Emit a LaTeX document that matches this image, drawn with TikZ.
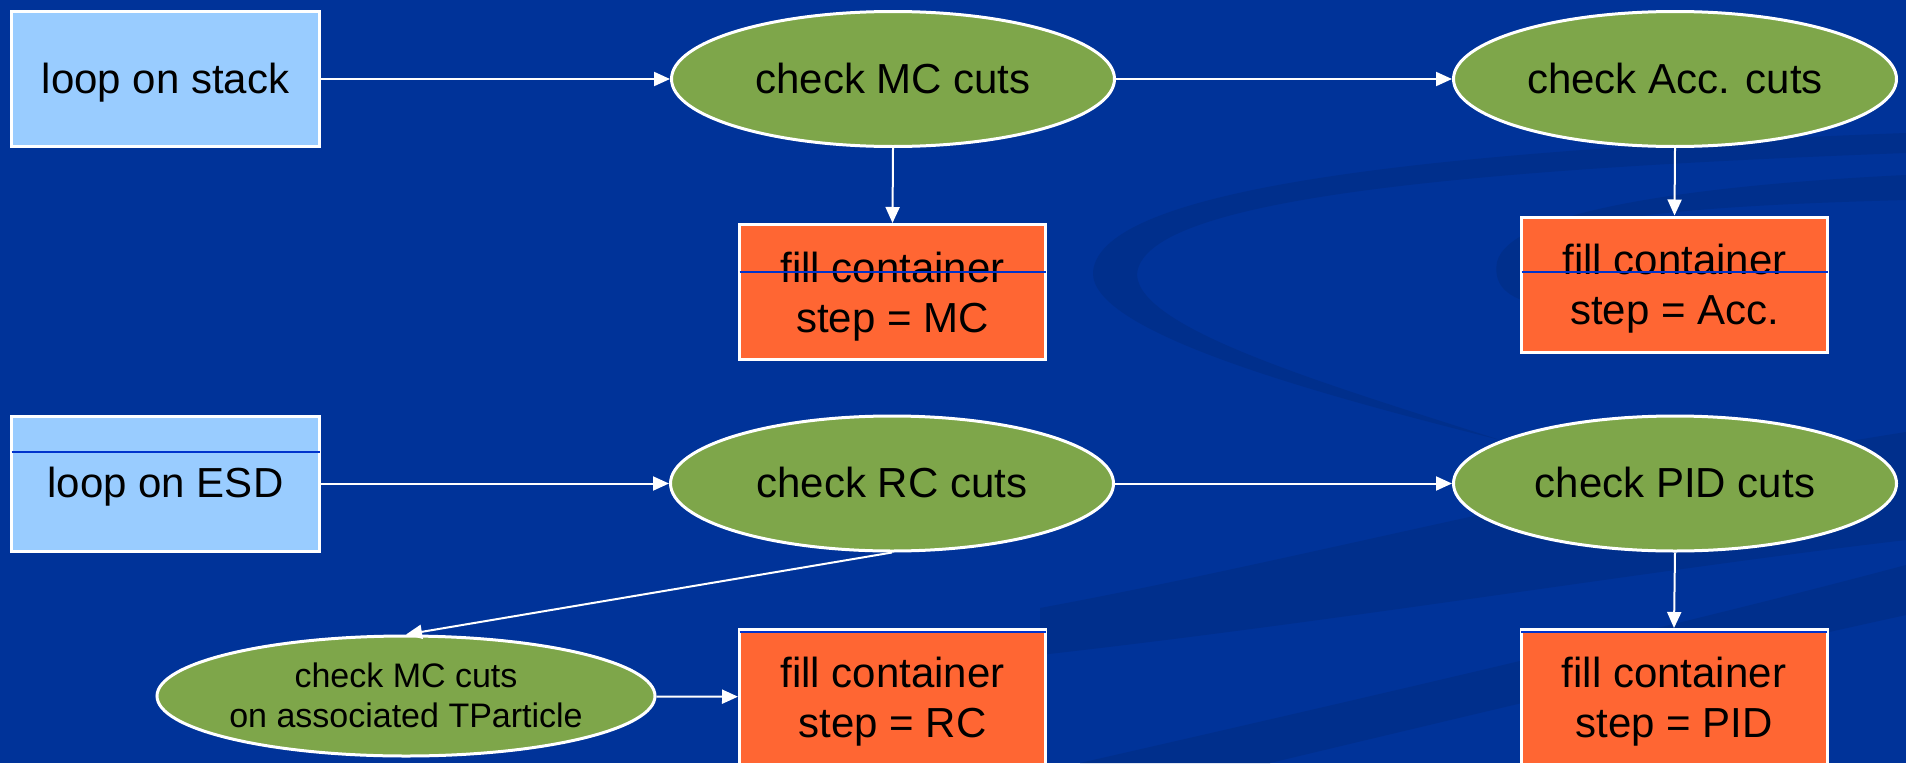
\documentclass[tikz,border=0pt]{standalone}
\usepackage{fontspec}
\setmainfont{Liberation Sans}
\usetikzlibrary{shapes.geometric,arrows.meta}

\definecolor{slideblue}{HTML}{003399}
\definecolor{swoosh}{HTML}{002F8C}
\definecolor{loopblue}{HTML}{99CCFF}
\definecolor{cutgreen}{HTML}{7EA64A}
\definecolor{fillorange}{HTML}{FF6633}
\definecolor{rule}{HTML}{0033CC}

\newcommand{\bigtext}{\fontsize{42}{50}\selectfont}
\newcommand{\smalltext}{\fontsize{34}{39.5}\selectfont}

% multi-line node text sits on its last baseline
\tikzset{
  oneline/.style={text height=31pt, text depth=3pt},
  twolines/.style={text height=81pt, text depth=1pt, align=center},
  loopbox/.style={draw=white, line width=3pt, fill=loopblue, rectangle,
    minimum width=308pt, minimum height=135pt, inner sep=0pt, font=\bigtext, oneline},
  cutell/.style={draw=white, line width=3pt, fill=cutgreen, ellipse,
    minimum width=443pt, minimum height=135pt, inner sep=0pt, font=\bigtext, oneline},
  smallell/.style={draw=white, line width=3pt, fill=cutgreen, ellipse,
    minimum width=498pt, minimum height=120pt, inner ysep=0pt, inner xsep=-8pt,
    align=center, font=\smalltext, text height=64pt, text depth=2pt},
  fillbox/.style={draw=white, line width=3pt, fill=fillorange, rectangle,
    minimum width=306pt, minimum height=135pt, inner sep=0pt, font=\bigtext, twolines},
  flow/.style={draw=white, line width=2pt, -{Triangle[length=16pt,width=14pt]}},
  divider/.style={draw=rule, line width=1.2pt},
  band/.style={fill=swoosh, draw=none},
}

\begin{document}
\begin{tikzpicture}[x=1pt, y=-1pt]
  % slide background
  \fill[slideblue] (0,0) rectangle (1906,763);
  \useasboundingbox (0,0) rectangle (1906,763);

  % darker background swooshes
  \fill[band] (1906,133) .. controls (1450,150) and (1100,185) .. (1093,272)
        .. controls (1090,330) and (1300,390) .. (1500,440)
        .. controls (1330,385) and (1140,330) .. (1137,275)
        .. controls (1140,200) and (1450,170) .. (1906,153) -- cycle;
  \fill[band] (1906,175) .. controls (1700,185) and (1510,210) .. (1497,262)
        .. controls (1492,290) and (1515,300) .. (1540,305)
        -- (1560,300) .. controls (1530,290) and (1522,270) .. (1530,250)
        .. controls (1560,215) and (1720,205) .. (1906,200) -- cycle;
  \fill[band] (1040,608) .. controls (1300,560) and (1600,480) .. (1906,432)
        -- (1906,540) .. controls (1650,570) and (1350,620) .. (1040,655) -- cycle;
  \fill[band] (1080,763) .. controls (1400,690) and (1700,620) .. (1906,565)
        -- (1906,615) .. controls (1700,660) and (1450,720) .. (1270,763) -- cycle;

  % upper row: generated particles
  \node[loopbox] (stack) at (165.5,79) {loop on stack};
  \node[cutell]  (mc)    at (893,79)   {check MC cuts};
  \node[cutell]  (acc)   at (1675,79)  {check Acc. cuts};
  \node[fillbox] (fillMC)  at (892.5,292)  {fill container\\step = MC};
  \node[fillbox] (fillAcc) at (1674.5,284.5) {fill container\\step = Acc.};

  % lower row: reconstructed tracks
  \node[loopbox] (esd) at (165.5,483.5) {loop on ESD};
  \node[cutell]  (rc)  at (892,483.5)   {check RC cuts};
  \node[cutell]  (pid) at (1675,483.5)  {check PID cuts};
  \node[smallell] (assoc) at (406,696) {check MC cuts\\on associated TParticle};
  \node[fillbox] (fillRC)  at (892.5,697) {fill container\\step = RC};
  \node[fillbox] (fillPID) at (1674,697)  {fill container\\step = PID};

  % thin rules across the boxes
  \draw[divider] ([xshift=1.5pt]fillMC.west |- 0,272) -- ([xshift=-1.5pt]fillMC.east |- 0,272);
  \draw[divider] ([xshift=1.5pt]fillAcc.west |- 0,272) -- ([xshift=-1.5pt]fillAcc.east |- 0,272);
  \draw[divider] ([xshift=1.5pt]esd.west |- 0,452) -- ([xshift=-1.5pt]esd.east |- 0,452);
  \draw[divider] ([xshift=1.5pt]fillRC.west |- 0,632) -- ([xshift=-1.5pt]fillRC.east |- 0,632);
  \draw[divider] ([xshift=1.5pt]fillPID.west |- 0,632) -- ([xshift=-1.5pt]fillPID.east |- 0,632);

  % connectors
  \draw[flow] (stack) -- (mc);
  \draw[flow] (mc) -- (acc);
  \draw[flow] (mc.south) -- (fillMC.north);
  \draw[flow] (acc.south) -- (fillAcc.north);
  \draw[flow] (esd) -- (rc);
  \draw[flow] (rc) -- (pid);
  \draw[flow] (pid.south) -- (fillPID.north);
  \draw[flow] (rc.south) -- (assoc.north);
  \draw[flow] (assoc) -- (fillRC);
\end{tikzpicture}
\end{document}
